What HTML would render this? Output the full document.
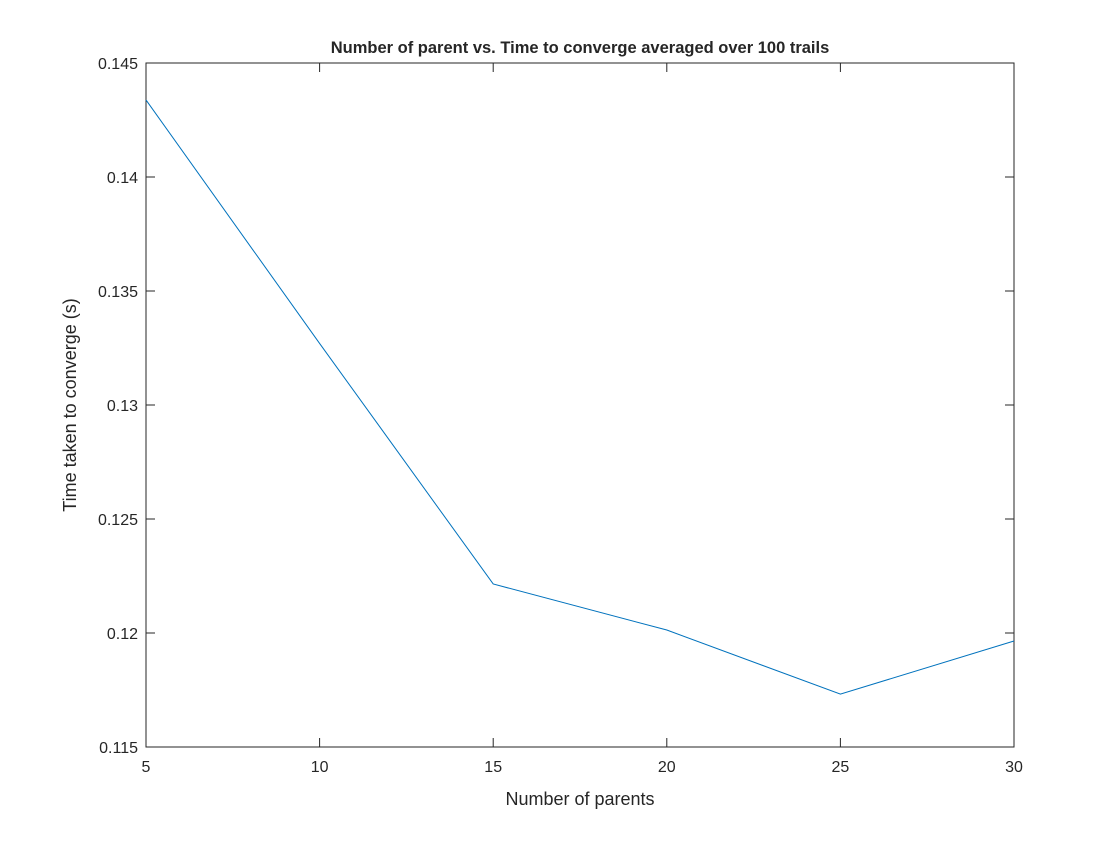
<!DOCTYPE html>
<html><head><meta charset="utf-8"><style>
body{margin:0;background:#fff;}
svg text{font-family:"Liberation Sans",Arial,sans-serif;fill:#262626;}
</style></head><body>
<svg id="chart" width="1120" height="840" xmlns="http://www.w3.org/2000/svg">
<rect width="1120" height="840" fill="#fff"/>
<g id="axes"></g>
<text x="580" y="53" text-anchor="middle" font-size="16.5" font-weight="bold" fill="#000">Number of parent vs. Time to converge averaged over 100 trails</text>
<text x="580" y="805" text-anchor="middle" font-size="18">Number of parents</text>
<text transform="translate(76,405) rotate(-90)" text-anchor="middle" font-size="18">Time taken to converge (s)</text>
</svg>
<script>
const xValues=[5,10,15,20,25,30];
const yValues=[0.14338,0.1327,0.12215,0.12013,0.11732,0.11965];
const xTicks=[5,10,15,20,25,30];
const yTicks=[0.115,0.12,0.125,0.13,0.135,0.14,0.145];
const L=146,R=1014,T=63,B=747;
const xMin=5,xMax=30,yMin=0.115,yMax=0.145;
const sx=v=>L+(v-xMin)/(xMax-xMin)*(R-L);
const sy=v=>B-(v-yMin)/(yMax-yMin)*(B-T);
const NS="http://www.w3.org/2000/svg";
const g=document.getElementById('axes');
function mk(t,a){const e=document.createElementNS(NS,t);for(const k in a)e.setAttribute(k,a[k]);g.appendChild(e);return e;}
const box=mk('rect',{x:L,y:T,width:R-L,height:B-T,fill:'none',stroke:'#262626','stroke-width':1});


xTicks.forEach(v=>{const x=sx(v);
 const t1=mk('path',{d:`M${x},${B}v-9M${x},${T}v9`,stroke:'#262626','stroke-width':1});
 
 
 const tx=mk('text',{x:x,y:B+25,'text-anchor':'middle','font-size':16});tx.textContent=v;
 
 
});
yTicks.forEach(v=>{const y=sy(v);
 const t1=mk('path',{d:`M${L},${y}h9M${R},${y}h-9`,stroke:'#262626','stroke-width':1});
 
 
 const tx=mk('text',{x:L-8,y:y+6,'text-anchor':'end','font-size':16});tx.textContent=String(v);
 
 
});
const line=mk('polyline',{points:xValues.map((x,i)=>sx(x)+','+sy(yValues[i])).join(' '),fill:'none',stroke:'#0072BD','stroke-width':1});


</script>
</body></html>
